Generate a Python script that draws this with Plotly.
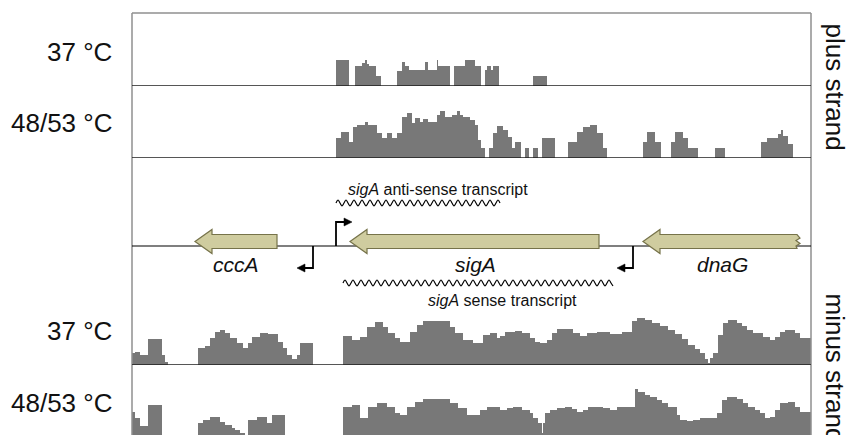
import plotly.graph_objects as go

W, H = 849, 435
X0_PX, X1_PX = 132, 811          # horizontal extent of the tracks
GENOME_SPAN = 679                # window width, in position units

# ---------------- coverage tracks (segment edges + depth per segment) ----------------
plus37_edges = [0, 204, 217, 223, 230, 233, 235, 237, 244, 249, 265, 270, 273, 277, 293, 296,
                305, 306, 318, 322, 333, 343, 349, 353, 355, 359, 361, 367, 401, 415, 679]
plus37_depth = [0, 26, 0, 20, 23, 26, 22, 20, 10, 0, 15, 24, 20, 16, 24, 16,
                26, 20, 0, 20, 26, 20, 0, 16, 20, 16, 20, 0, 10, 0]

plus48_edges = [0, 204, 209, 217, 221, 225, 233, 236, 245, 250, 255, 260, 265, 270, 275, 280,
                283, 288, 291, 296, 305, 308, 313, 320, 325, 328, 331, 338, 343, 346, 349, 353,
                357, 361, 365, 371, 376, 380, 383, 389, 393, 397, 401, 406, 410, 423, 436, 445,
                451, 458, 465, 471, 475, 511, 515, 523, 529, 539, 543, 551, 556, 566, 583, 593,
                629, 635, 646, 649, 651, 656, 661, 679]
plus48_depth = [0, 20, 26, 16, 31, 33, 36, 33, 25, 20, 25, 20, 25, 41, 45, 35,
                40, 36, 39, 36, 43, 47, 41, 43, 47, 43, 41, 38, 33, 18, 10, 0,
                10, 25, 32, 28, 21, 10, 16, 0, 10, 0, 10, 0, 20, 0, 16, 26,
                31, 33, 25, 10, 0, 16, 26, 16, 0, 16, 26, 20, 10, 0, 10, 0,
                16, 20, 24, 28, 22, 14, 0]

minus37_edges = [0, 3, 8, 16, 30, 33, 36, 66, 73, 78, 83, 88, 93, 98, 105, 111, 116, 120, 128,
                 136, 146, 151, 155, 160, 165, 168, 181, 211, 220, 228, 235, 243, 251, 256, 263,
                 268, 278, 285, 291, 318, 323, 331, 341, 351, 358, 365, 368, 373, 383, 390, 398,
                 403, 408, 415, 420, 425, 441, 448, 455, 465, 478, 490, 500, 505, 513, 520, 528,
                 536, 543, 550, 556, 563, 568, 573, 576, 578, 581, 586, 591, 596, 605, 610, 615,
                 621, 631, 638, 643, 648, 653, 663, 668, 679]
minus37_depth = [12, 13, 10, 26, 10, 3, 0, 17, 19, 27, 33, 35, 32, 27, 22, 17, 22, 28,
                 32, 31, 23, 17, 10, 6, 10, 22, 0, 29, 25, 28, 38, 43, 38, 32,
                 27, 23, 33, 40, 44, 38, 32, 25, 22, 30, 32, 27, 29, 33, 34, 32,
                 27, 23, 22, 25, 32, 36, 32, 29, 32, 33, 31, 33, 44, 47, 45, 42,
                 39, 35, 31, 26, 20, 16, 12, 6, 2, 7, 12, 30, 42, 45, 42, 39,
                 35, 32, 28, 25, 28, 33, 35, 32, 27]

minus48_edges = [0, 3, 8, 16, 30, 66, 71, 78, 88, 93, 100, 103, 108, 113, 116, 125, 135, 140,
                 153, 211, 220, 228, 236, 245, 255, 263, 268, 275, 283, 291, 318, 326, 335, 348,
                 355, 368, 375, 381, 390, 398, 401, 406, 410, 411, 413, 418, 425, 433, 440, 445,
                 451, 456, 471, 478, 485, 503, 506, 513, 518, 525, 530, 536, 545, 548, 555, 561,
                 568, 585, 590, 595, 605, 611, 616, 623, 628, 633, 638, 643, 648, 656, 663, 668,
                 679]
minus48_depth = [26, 20, 12, 33, 0, 15, 18, 21, 16, 13, 10, 8, 5, 0, 18, 21, 15,
                 23, 0, 31, 33, 20, 31, 35, 31, 25, 23, 31, 36, 39, 35, 30, 23,
                 28, 31, 28, 30, 31, 28, 25, 20, 15, 5, 15, 25, 28, 30, 31, 29,
                 26, 28, 31, 30, 28, 31, 49, 46, 43, 41, 38, 35, 31, 23, 18, 17,
                 18, 20, 25, 38, 41, 39, 35, 31, 28, 25, 20, 21, 28, 35, 36, 31,
                 26]

track_labels = ["37 °C", "48/53 °C", "37 °C", "48/53 °C"]
strand_labels = ["plus strand", "minus strand"]

# ---------------- gene annotation ----------------
gene_names = ["cccA", "sigA", "dnaG"]
gene_left = [63, 218, 511]
gene_right = [145, 467, 665]
gene_strand = ["-", "-", "-"]
gene_truncated = [False, False, True]
gene_label_x = [103.5, 343, 590]

promoter_pos = [204, 181, 501]
promoter_strand = ["+", "-", "-"]

transcript_names = ["<i>sigA</i> anti-sense transcript", "<i>sigA</i> sense transcript"]
transcript_start = [204, 211]
transcript_end = [368, 481]
transcript_strand = ["+", "-"]
transcript_label_x = [306, 370]

COV = "#787878"
FRAME = "#8f8f8f"
GENE_FILL = "#cfcc9f"
GENE_EDGE = "#76734a"
FONT = "Liberation Sans, Arial, sans-serif"


def py(px):
    """pixel row -> paper fraction"""
    return 1 - px / H


fig = go.Figure()

# y-axis domains (pixel rows) for the stacked panels; the gene map overlaps
# the top of the minus-strand 37 °C panel so its captions fit inside its range
panels = {
    "y":  dict(rows=(13, 86), rng=[0, 73]),     # plus strand 37 °C
    "y2": dict(rows=(86, 158), rng=[0, 72]),    # plus strand 48/53 °C
    "y3": dict(rows=(158, 312), rng=[-66, 88]), # gene map
    "y4": dict(rows=(292, 365), rng=[0, 73]),   # minus strand 37 °C
    "y5": dict(rows=(365, 435), rng=[3, 73]),   # minus strand 48/53 °C
}

tracks = [("y", plus37_edges, plus37_depth), ("y2", plus48_edges, plus48_depth),
          ("y4", minus37_edges, minus37_depth), ("y5", minus48_edges, minus48_depth)]
for ax, edges, depth in tracks:
    fig.add_trace(go.Scatter(
        x=edges, y=list(depth) + [depth[-1]], xaxis="x", yaxis=ax,
        mode="lines", line=dict(width=0, shape="hv", color=COV),
        fill="tozeroy", fillcolor=COV, hoverinfo="skip", showlegend=False))

# transcripts drawn as wavy lines
for s, e, strand in zip(transcript_start, transcript_end, transcript_strand):
    yc = 43 if strand == "+" else -37
    n = int(round((e - s) / 2.0))
    xs = [s + i * (e - s) / n for i in range(n + 1)]
    ys = [yc + 3.0 * [0, 1, 0, -1][i % 4] for i in range(n + 1)]
    fig.add_trace(go.Scatter(x=xs, y=ys, xaxis="x", yaxis="y3", mode="lines",
                             line=dict(color="#000000", width=1.2, shape="spline"),
                             hoverinfo="skip", showlegend=False))

shapes = []
# frame: top, left, right
shapes.append(dict(type="line", xref="paper", yref="paper", x0=X0_PX / W, x1=X1_PX / W,
                   y0=py(13), y1=py(13), line=dict(color=FRAME, width=1.5)))
for xp in (X0_PX, X1_PX):
    shapes.append(dict(type="line", xref="paper", yref="paper", x0=xp / W, x1=xp / W,
                       y0=py(13), y1=0, line=dict(color=FRAME, width=1.5)))
# track baselines and the genome line
for ax in ("y", "y2", "y4"):
    shapes.append(dict(type="line", xref="x", yref=ax, x0=0, x1=GENOME_SPAN, y0=0, y1=0,
                       line=dict(color="#1e1e1e", width=1.5)))
shapes.append(dict(type="line", xref="x", yref="y3", x0=0, x1=GENOME_SPAN, y0=0, y1=0,
                   line=dict(color="#000000", width=1.2)))

# gene arrows
YC, BODY, HEAD, HEADLEN = 4.5, 7, 12, 17
for left, right, strand, trunc in zip(gene_left, gene_right, gene_strand, gene_truncated):
    if strand == "-":
        neck = left + HEADLEN
        pts = [(left, YC), (neck, YC + HEAD), (neck, YC + BODY), (right, YC + BODY)]
        if trunc:
            pts += [(right + 3, YC + 3.5), (right - 1, YC + 1), (right + 3, YC - 2),
                    (right - 1, YC - 4.5), (right, YC - BODY)]
        else:
            pts += [(right, YC - BODY)]
        pts += [(neck, YC - BODY), (neck, YC - HEAD)]
    else:
        neck = right - HEADLEN
        pts = [(right, YC), (neck, YC + HEAD), (neck, YC + BODY), (left, YC + BODY),
                (left, YC - BODY), (neck, YC - BODY), (neck, YC - HEAD)]
    path = "M " + " L ".join(f"{x},{y}" for x, y in pts) + " Z"
    shapes.append(dict(type="path", xref="x", yref="y3", path=path,
                       fillcolor=GENE_FILL, line=dict(color=GENE_EDGE, width=1.2)))

# promoters (bent arrows)
for p, strand in zip(promoter_pos, promoter_strand):
    sgn = 1 if strand == "+" else -1
    h = 24 if strand == "+" else -22
    tip = p + sgn * 16
    base = p + sgn * 8
    shapes.append(dict(type="path", xref="x", yref="y3",
                       path=f"M {p},0 L {p},{h} L {base},{h}",
                       line=dict(color="#000000", width=1.8)))
    shapes.append(dict(type="path", xref="x", yref="y3",
                       path=f"M {tip},{h} L {base},{h + 4} L {base},{h - 4} Z",
                       fillcolor="#000000", line=dict(color="#000000", width=0.5)))

annotations = []
label_rows = [52, 123, 331, 403]
for txt, row in zip(track_labels, label_rows):
    annotations.append(dict(text=txt, xref="paper", yref="paper", x=114 / W, y=py(row),
                            xanchor="right", yanchor="middle", showarrow=False,
                            font=dict(family=FONT, size=26, color="#111111")))
for txt, row in zip(strand_labels, [87, 368]):
    annotations.append(dict(text=txt, xref="paper", yref="paper", x=834.5 / W, y=py(row),
                            xanchor="center", yanchor="middle", textangle=90, showarrow=False,
                            font=dict(family=FONT, size=26, color="#111111")))
for name, cx in zip(gene_names, gene_label_x):
    annotations.append(dict(text=f"<i>{name}</i>", xref="x", yref="y3", x=cx, y=-18,
                            xanchor="center", yanchor="middle", showarrow=False,
                            font=dict(family=FONT, size=21, color="#111111")))
for txt, cx, cy in zip(transcript_names, transcript_label_x, [57, -54]):
    annotations.append(dict(text=txt, xref="x", yref="y3", x=cx, y=cy,
                            xanchor="center", yanchor="middle", showarrow=False,
                            font=dict(family=FONT, size=16, color="#111111")))

layout = dict(
    width=W, height=H, margin=dict(l=0, r=0, t=0, b=0),
    paper_bgcolor="white", plot_bgcolor="rgba(0,0,0,0)",
    showlegend=False, shapes=shapes, annotations=annotations,
    xaxis=dict(domain=[X0_PX / W, X1_PX / W], range=[0, GENOME_SPAN], visible=False,
               fixedrange=True),
)
for ax, spec in panels.items():
    key = "yaxis" if ax == "y" else "yaxis" + ax[1:]
    top, bottom = spec["rows"]
    layout[key] = dict(domain=[py(bottom), py(top)], range=spec["rng"], visible=False,
                       anchor="x", fixedrange=True)
fig.update_layout(**layout)

fig.write_html("out.html")
